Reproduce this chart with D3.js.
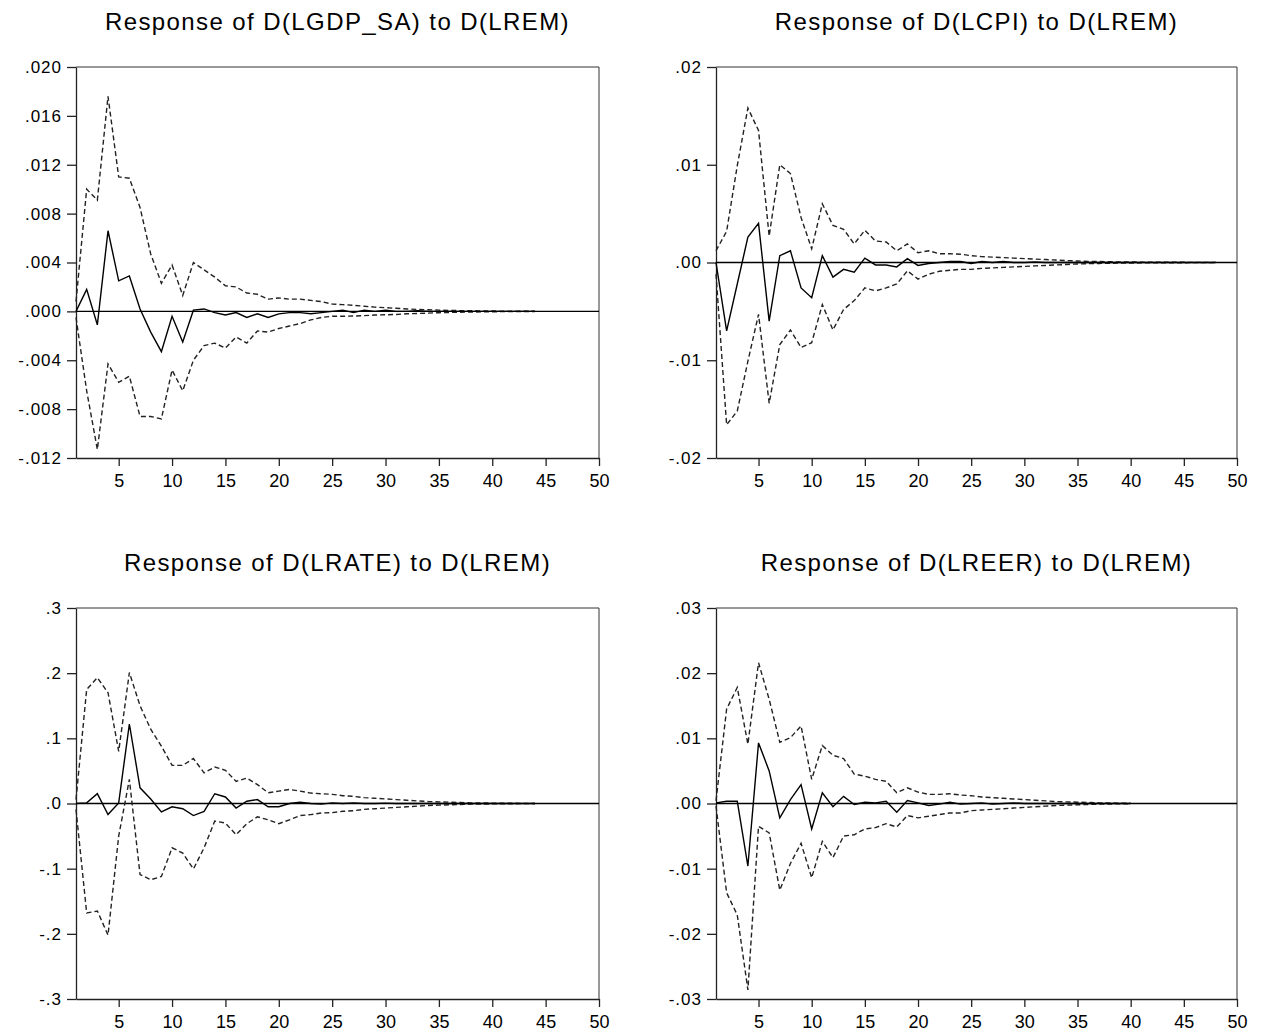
<!DOCTYPE html>
<html>
<head>
<meta charset="utf-8">
<script src="https://cdn.jsdelivr.net/npm/d3@7"></script>
<style>
  body { margin: 0; background: #fff; }
  svg text { font-family: "Liberation Sans", Arial, sans-serif; fill: #000; }
</style>
</head>
<body>
<div id="chart"></div>
<script>
// impulse responses to a D(LREM) shock, +/- 2 s.e. bands
var titles = ["Response of D(LGDP_SA) to D(LREM)", "Response of D(LCPI) to D(LREM)",
              "Response of D(LRATE) to D(LREM)", "Response of D(LREER) to D(LREM)"]

var xTicks = [5, 10, 15, 20, 25, 30, 35, 40, 45, 50]

var yTicks1 = [-0.012, -0.008, -0.004, 0, 0.004, 0.008, 0.012, 0.016, 0.020]
var yTicks2 = [-0.02, -0.01, 0, 0.01, 0.02]
var yTicks3 = [-0.3, -0.2, -0.1, 0, 0.1, 0.2, 0.3]
var yTicks4 = [-0.03, -0.02, -0.01, 0, 0.01, 0.02, 0.03]

// D(LGDP_SA)
var resp1 = [0, 0.0018, -0.0011, 0.0066, 0.0025, 0.0029, 0.0002, -0.0017, -0.0033, -0.0004, -0.0025, 0.0001, 0.0002, -0.0001, -0.0003,
  -0.0001, -0.0005, -0.0002, -0.0005, -0.0002, -0.0001, -0.0001, -0.0002, -0.0001, 0, 0.0001, -0.0001, 0.0001, 0, 0.0001,
  0, 0, 0.00005, 0, 0, 0, 0, 0, 0, 0, 0, 0, 0, 0]
var upper1 = [0.0008, 0.0100, 0.0091, 0.0176, 0.0110, 0.0109, 0.0085, 0.0047, 0.0023, 0.0038, 0.0013, 0.0040, 0.0034, 0.0028, 0.0021,
  0.0020, 0.0015, 0.0014, 0.0010, 0.0011, 0.0010, 0.0010, 0.0009, 0.0008, 0.0006, 0.00055, 0.0005, 0.00042, 0.00035, 0.0003,
  0.00025, 0.0002, 0.00016, 0.00013, 0.0001, 0.00008, 0.00006, 0.00005, 0.00004, 0.00003, 0.00002, 0.00002, 0.00001, 0.00001]
var lower1 = [-0.0005, -0.0065, -0.0113, -0.0043, -0.0058, -0.0053, -0.0086, -0.0086, -0.0088, -0.0048, -0.0065, -0.0040, -0.0028, -0.0026, -0.0030,
  -0.0021, -0.0026, -0.0016, -0.0017, -0.0014, -0.0012, -0.0010, -0.0007, -0.0005, -0.0004, -0.0004, -0.00038, -0.00035, -0.0003, -0.00028,
  -0.00025, -0.0002, -0.00017, -0.00014, -0.00011, -0.00009, -0.00007, -0.00005, -0.00004, -0.00003, -0.00002, -0.00002, -0.00001, -0.00001]

// D(LCPI)
var resp2 = [0, -0.0070, -0.0022, 0.0026, 0.0040, -0.0060, 0.0007, 0.0012, -0.0026, -0.0036, 0.0007, -0.0015, -0.0007, -0.0010, 0.00045,
  -0.00025, -0.00025, -0.00045, 0.0004, -0.0003, -0.0001, 0, 0.0001, 0.0001, -0.0001, 0.0001, 0, 0.0001, 0, 0,
  0.00005, 0, 0, 0, 0, 0, 0, 0, 0, 0, 0, 0, 0, 0, 0, 0, 0, 0]
var upper2 = [0.0012, 0.0032, 0.0099, 0.0158, 0.0135, 0.0027, 0.0100, 0.0091, 0.0046, 0.0014, 0.0060, 0.0038, 0.0034, 0.0019, 0.0033,
  0.0022, 0.0021, 0.0012, 0.0019, 0.0010, 0.0012, 0.0009, 0.0009, 0.00085, 0.0007, 0.0006, 0.00055, 0.0005, 0.00045, 0.0004,
  0.00035, 0.0003, 0.00025, 0.0002, 0.00015, 0.00012, 0.0001, 0.00008, 0.00006, 0.00005, 0.00004, 0.00003, 0.00003, 0.00002, 0.00002,
  0.00001, 0.00001, 0.00001]
var lower2 = [-0.0012, -0.0166, -0.0152, -0.0101, -0.0053, -0.0144, -0.0084, -0.0069, -0.0087, -0.0082, -0.0043, -0.0069, -0.0048, -0.0039, -0.0026,
  -0.0029, -0.0026, -0.0022, -0.00085, -0.0017, -0.0012, -0.0009, -0.0008, -0.0007, -0.0007, -0.0006, -0.00055, -0.0005, -0.00045, -0.0004,
  -0.00035, -0.0003, -0.00025, -0.0002, -0.00015, -0.00012, -0.0001, -0.00008, -0.00006, -0.00005, -0.00004, -0.00003, -0.00003, -0.00002, -0.00002,
  -0.00001, -0.00001, -0.00001]

// D(LRATE)
var resp3 = [0, 0.001, 0.015, -0.017, 0.001, 0.122, 0.024, 0.007, -0.013, -0.005, -0.008, -0.0185, -0.012, 0.015, 0.010,
  -0.007, 0.0035, 0.006, -0.005, -0.005, 0, 0.002, 0, -0.001, 0.001, 0, 0.001, 0, 0, 0.0005,
  0, 0, 0, 0, 0, 0, 0, 0, 0, 0, 0, 0, 0, 0]
var upper3 = [0.006, 0.175, 0.193, 0.170, 0.080, 0.201, 0.150, 0.114, 0.088, 0.0585, 0.0585, 0.069, 0.047, 0.056, 0.051,
  0.034, 0.039, 0.029, 0.0165, 0.019, 0.0215, 0.019, 0.016, 0.015, 0.014, 0.012, 0.011, 0.009, 0.008, 0.007,
  0.006, 0.005, 0.004, 0.003, 0.0025, 0.002, 0.0015, 0.001, 0.0008, 0.0006, 0.0004, 0.0003, 0.0002, 0.0001]
var lower3 = [-0.009, -0.168, -0.165, -0.202, -0.050, 0.037, -0.109, -0.117, -0.112, -0.068, -0.076, -0.1005, -0.068, -0.027, -0.030,
  -0.048, -0.031, -0.0205, -0.025, -0.031, -0.025, -0.0185, -0.017, -0.0145, -0.014, -0.012, -0.011, -0.009, -0.008, -0.007,
  -0.006, -0.005, -0.004, -0.003, -0.0025, -0.002, -0.0015, -0.001, -0.0008, -0.0006, -0.0004, -0.0003, -0.0002, -0.0001]

// D(LREER)
var resp4 = [0.0001, 0.00035, 0.00035, -0.0096, 0.0093, 0.0050, -0.0022, 0.0006, 0.0029, -0.0039, 0.00165, -0.0005, 0.0011, -0.00015, 0.0002,
  0.0001, 0.00035, -0.00135, 0.00045, 0.0001, -0.0003, -0.0001, 0.0002, -0.0001, 0, 0.0001, -0.0001, 0, 0.0001, 0,
  0, 0, 0, 0, 0, 0, 0, 0, 0, 0]
var upper4 = [0.0004, 0.0145, 0.0178, 0.0091, 0.0216, 0.0160, 0.0094, 0.0101, 0.0119, 0.0037, 0.0089, 0.0074, 0.0069, 0.0045, 0.0042,
  0.0037, 0.0034, 0.00165, 0.0024, 0.00175, 0.0014, 0.0014, 0.0015, 0.0013, 0.0012, 0.0010, 0.0009, 0.0008, 0.0007, 0.0006,
  0.0005, 0.0004, 0.0003, 0.00025, 0.0002, 0.00015, 0.0001, 0.00008, 0.00005, 0.00003]
var lower4 = [-0.0004, -0.0137, -0.0171, -0.0286, -0.0035, -0.0045, -0.0133, -0.0092, -0.0061, -0.0114, -0.0058, -0.0083, -0.0050, -0.0048, -0.0039,
  -0.0037, -0.0031, -0.0036, -0.00185, -0.0022, -0.00195, -0.0017, -0.00145, -0.00145, -0.0011, -0.0010, -0.0009, -0.0008, -0.0007, -0.0006,
  -0.0005, -0.0004, -0.0003, -0.00025, -0.0002, -0.00015, -0.0001, -0.00008, -0.00005, -0.00003]

var panels = [
  { title: titles[0], resp: resp1, upper: upper1, lower: lower1, ticks: yTicks1, dec: 3, left: 76,  right: 599,  top: 67,  bottom: 458 },
  { title: titles[1], resp: resp2, upper: upper2, lower: lower2, ticks: yTicks2, dec: 2, left: 716, right: 1237, top: 67,  bottom: 458 },
  { title: titles[2], resp: resp3, upper: upper3, lower: lower3, ticks: yTicks3, dec: 1, left: 76,  right: 599,  top: 608, bottom: 999 },
  { title: titles[3], resp: resp4, upper: upper4, lower: lower4, ticks: yTicks4, dec: 2, left: 716, right: 1237, top: 608, bottom: 999 }
]

var svg = d3.select("#chart").append("svg")
  .attr("width", 1266)
  .attr("height", 1033)

panels.forEach(function(p) {
  var g = svg.append("g")

  var x = d3.scaleLinear().domain([1, 50]).range([p.left, p.right])
  var y = d3.scaleLinear().domain(d3.extent(p.ticks)).range([p.bottom, p.top])

  // title
  g.append("text")
    .attr("x", (p.left + p.right) / 2)
    .attr("y", p.top - 37)
    .attr("text-anchor", "middle")
    .style("font-size", "24px")
    .style("letter-spacing", "1.4px")
    .text(p.title)

  // frame: top and right
  g.append("path")
    .attr("d", "M" + p.left + "," + p.top + "H" + p.right + "V" + p.bottom)
    .attr("fill", "none")
    .attr("stroke", "#333")
    .attr("stroke-width", 1)

  // axes (plain hyphen for negatives, no leading zero)
  var fmt = function(v) {
    return d3.format("." + p.dec + "f")(v).replace("\u2212", "-").replace("0.", ".")
  }
  var ya = g.append("g")
    .attr("transform", "translate(" + p.left + ",0)")
    .call(d3.axisLeft(y).tickValues(p.ticks).tickFormat(fmt).tickSizeInner(9).tickSizeOuter(0).tickPadding(5))
  ya.selectAll("text").style("font-size", "17px").style("letter-spacing", "1px")

  var xa = g.append("g")
    .attr("transform", "translate(0," + p.bottom + ")")
    .call(d3.axisBottom(x).tickValues(xTicks).tickSizeInner(8).tickSizeOuter(0).tickPadding(8))
  xa.selectAll("text").style("font-size", "18px")

  g.selectAll(".domain").attr("stroke", "#222").attr("stroke-width", 1.3)
  g.selectAll(".tick line").attr("stroke", "#222").attr("stroke-width", 1.3)

  // zero line
  g.append("line")
    .attr("x1", x(1)).attr("x2", x(50))
    .attr("y1", y(0)).attr("y2", y(0))
    .attr("stroke", "#000")
    .attr("stroke-width", 1.3)

  var line = d3.line()
    .x(function(d, i) { return x(i + 1) })
    .y(function(d) { return y(d) })

  // error bands
  ;[p.upper, p.lower].forEach(function(s) {
    g.append("path")
      .datum(s)
      .attr("d", line)
      .attr("fill", "none")
      .attr("stroke", "#222")
      .attr("stroke-width", 1.4)
      .attr("stroke-dasharray", "5,3")
  })

  // response
  g.append("path")
    .datum(p.resp)
    .attr("d", line)
    .attr("fill", "none")
    .attr("stroke", "#000")
    .attr("stroke-width", 1.4)
})
</script>
</body>
</html>
